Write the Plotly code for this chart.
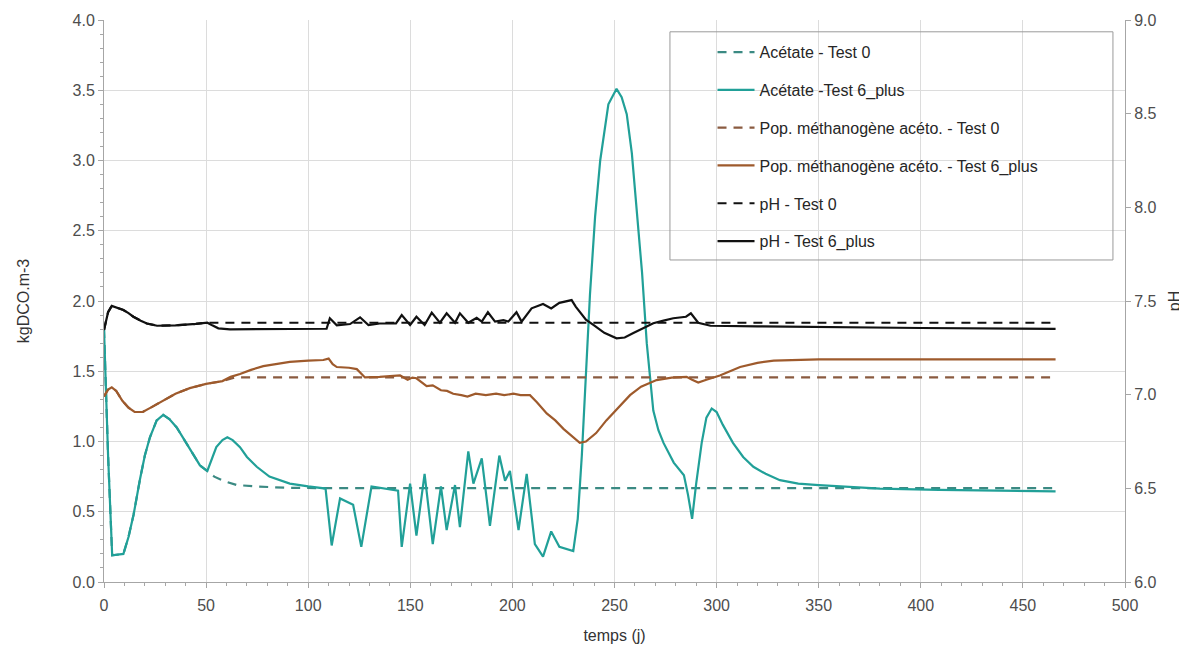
import plotly.graph_objects as go

# ---------------- data ----------------
ac6_days = [0, 2, 4, 9.5, 12, 14.5, 17.6, 20, 22.5, 25.8, 29, 32, 35.6, 39, 42, 47, 50.6, 53, 55, 58, 60.4, 63,
            66.6, 70, 74.8, 81, 91, 100, 108.5, 111.5, 115.6, 122, 126, 131, 135, 144, 145.8, 149.9, 153, 157,
            161, 165, 167.8, 171.9, 174.3, 178.4, 180.9, 185, 189, 193.6, 196.4, 198.8, 203, 207, 211, 215,
            219, 223, 229.8, 232, 234, 236, 238, 240.5, 243, 247, 251, 253.5, 256, 258.5, 261, 263.5, 265.8,
            269, 271.5, 274, 279, 284, 286, 288, 290, 292.7, 295, 297.6, 300, 303, 308, 313, 318, 324, 331,
            340, 350, 365, 380, 409, 440, 466]
ac6_vals = [1.80, 0.90, 0.19, 0.20, 0.32, 0.48, 0.73, 0.90, 1.03, 1.15, 1.19, 1.16, 1.10, 1.02, 0.94, 0.83,
            0.79, 0.88, 0.96, 1.01, 1.03, 1.01, 0.96, 0.89, 0.82, 0.75, 0.70, 0.68, 0.665, 0.26, 0.595, 0.55,
            0.25, 0.68, 0.67, 0.65, 0.25, 0.70, 0.33, 0.77, 0.27, 0.68, 0.37, 0.69, 0.39, 0.93, 0.70, 0.88,
            0.40, 0.90, 0.72, 0.79, 0.37, 0.77, 0.27, 0.18, 0.36, 0.25, 0.22, 0.45, 0.90, 1.50, 2.05, 2.60,
            3.00, 3.40, 3.51, 3.45, 3.33, 3.05, 2.65, 2.20, 1.70, 1.22, 1.08, 0.99, 0.85, 0.76, 0.62, 0.45,
            0.70, 0.99, 1.17, 1.235, 1.21, 1.12, 0.99, 0.89, 0.82, 0.77, 0.725, 0.70, 0.69, 0.675, 0.665,
            0.655, 0.65, 0.645]

ac0_days = [0, 2, 4, 9.5, 12, 14.5, 17.6, 20, 22.5, 25.8, 29, 32, 35.6, 39, 42, 47, 50.6, 54, 58.5, 65,
            74.8, 90, 110, 466]
ac0_vals = [1.80, 0.90, 0.19, 0.20, 0.32, 0.48, 0.73, 0.90, 1.03, 1.15, 1.19, 1.16, 1.10, 1.02, 0.94, 0.83,
            0.79, 0.75, 0.72, 0.69, 0.68, 0.67, 0.668, 0.668]

pop6_days = [0, 2, 3.8, 6, 9, 12, 15, 19, 24, 29, 35, 42, 50, 58, 62, 66.6, 72, 78, 85, 91, 100, 107.4, 110,
             112, 114, 120, 123.8, 126, 127.8, 135, 145, 148.7, 151, 153, 158, 161, 165, 168, 171, 175, 178,
             182, 187, 192, 196, 200.5, 204, 208.6, 212, 216.8, 221, 225, 229, 233, 236, 241, 246, 252, 257.6,
             263, 270.6, 278, 285.3, 288, 291, 295, 301.6, 311.5, 320, 328, 350, 466]
pop6_vals = [1.32, 1.37, 1.385, 1.36, 1.29, 1.24, 1.21, 1.21, 1.25, 1.29, 1.34, 1.38, 1.41, 1.43, 1.46, 1.48,
             1.51, 1.536, 1.555, 1.567, 1.575, 1.58, 1.59, 1.55, 1.53, 1.525, 1.515, 1.48, 1.456, 1.46, 1.47,
             1.44, 1.455, 1.45, 1.394, 1.40, 1.365, 1.36, 1.34, 1.33, 1.32, 1.34, 1.33, 1.34, 1.33, 1.34, 1.33,
             1.33, 1.28, 1.20, 1.15, 1.09, 1.04, 0.99, 1.00, 1.06, 1.15, 1.24, 1.33, 1.39, 1.437, 1.455, 1.46,
             1.44, 1.42, 1.44, 1.47, 1.53, 1.56, 1.576, 1.585, 1.585]

pop0_days = [0, 2, 3.8, 6, 9, 12, 15, 19, 24, 29, 35, 42, 50, 58, 62, 64, 466]
pop0_vals = [1.32, 1.37, 1.385, 1.36, 1.29, 1.24, 1.21, 1.21, 1.25, 1.29, 1.34, 1.38, 1.41, 1.43, 1.45, 1.456,
             1.456]

ph6_days = [0, 2, 3.8, 6, 9.5, 12, 14.4, 18, 21, 26, 35, 45, 50.6, 53, 56, 61.7, 80, 109, 110.6, 114, 120.5,
            125.4, 129.5, 135, 143, 145.8, 149.9, 153, 157, 160.5, 164.5, 167.8, 171.9, 174.3, 178.4, 182.5,
            185, 188, 191.5, 195.6, 198, 202, 204.5, 209.4, 215, 219, 223, 229, 231, 236, 240, 245, 251, 255,
            259, 264, 269, 274, 278.8, 285, 287.4, 291, 297, 320, 344, 400, 466]
ph6_vals = [7.345, 7.44, 7.474, 7.465, 7.452, 7.435, 7.416, 7.395, 7.38, 7.368, 7.37, 7.378, 7.384, 7.37,
            7.354, 7.349, 7.35, 7.352, 7.408, 7.37, 7.377, 7.413, 7.372, 7.38, 7.38, 7.425, 7.372, 7.416, 7.372,
            7.438, 7.384, 7.434, 7.384, 7.434, 7.384, 7.41, 7.39, 7.44, 7.39, 7.398, 7.39, 7.44, 7.39, 7.461,
            7.484, 7.46, 7.49, 7.505, 7.47, 7.40, 7.37, 7.33, 7.301, 7.305, 7.328, 7.355, 7.381, 7.395, 7.408,
            7.416, 7.434, 7.384, 7.368, 7.365, 7.362, 7.356, 7.351]

ph0_days = [0, 2, 3.8, 6, 9.5, 12, 14.4, 18, 21, 26, 35, 45, 50.6, 466]
ph0_vals = [7.345, 7.44, 7.474, 7.465, 7.452, 7.435, 7.416, 7.395, 7.38, 7.368, 7.37, 7.378, 7.384, 7.384]

x_ticks = [0, 50, 100, 150, 200, 250, 300, 350, 400, 450, 500]

# ---------------- figure ----------------
TEAL = "#21a098"
TEAL_D = "#3b8a83"
BROWN = "#9e5a2c"
BROWN_D = "#8a5b40"
BLACK = "#111111"
DASH = "9px,7px"

series = [
    ("Acétate - Test 0", ac0_days, ac0_vals, TEAL_D, DASH, "y"),
    ("Acétate -Test 6_plus", ac6_days, ac6_vals, TEAL, "solid", "y"),
    ("Pop. méthanogène acéto. - Test 0", pop0_days, pop0_vals, BROWN_D, DASH, "y"),
    ("Pop. méthanogène acéto. - Test 6_plus", pop6_days, pop6_vals, BROWN, "solid", "y"),
    ("pH - Test 0", ph0_days, ph0_vals, BLACK, DASH, "y2"),
    ("pH - Test 6_plus", ph6_days, ph6_vals, BLACK, "solid", "y2"),
]

fig = go.Figure()
for i, (name, xs, ys, col, dash, ax) in enumerate(series):
    fig.add_trace(go.Scatter(x=xs, y=ys, name=name, mode="lines", yaxis=ax,
                             legendgroup=f"g{i}",
                             line=dict(color=col, width=2.2, dash=dash)))

FONT = "Liberation Sans, Arial, sans-serif"
TICKC = "#4d4d4d"
FS = 16

fig.update_layout(
    width=1187, height=654,
    margin=dict(l=96, r=70, t=12, b=80),
    paper_bgcolor="white", plot_bgcolor="white",
    font=dict(family=FONT, size=FS, color="#333333"),
    showlegend=True,
    legend=dict(x=0.596, y=0.973, xanchor="left", yanchor="top",
                bgcolor="rgba(0,0,0,0)", borderwidth=0,
                font=dict(size=FS, color="#262626"),
                tracegroupgap=14, itemwidth=37),
    xaxis=dict(range=[0, 500], tickvals=x_ticks, showgrid=True, gridcolor="#dcdcdc",
               showline=True, linecolor="#a6a6a6", linewidth=1, zeroline=False, automargin=False,
               ticks="outside", ticklen=5, tickcolor="#a6a6a6", ticklabelstandoff=4,
               minor=dict(dtick=10, ticks="outside", ticklen=3, tickcolor="#a6a6a6", showgrid=False),
               tickfont=dict(size=FS, color=TICKC),
               title=dict(text="temps (j)", font=dict(size=FS, color="#333333"), standoff=16)),
    yaxis=dict(range=[0, 4], dtick=0.5, tickformat=".1f", showgrid=True, gridcolor="#dcdcdc",
               showline=True, linecolor="#a6a6a6", zeroline=False, automargin=False,
               ticks="outside", ticklen=5, tickcolor="#a6a6a6",
               minor=dict(dtick=0.1, ticks="outside", ticklen=3, tickcolor="#a6a6a6", showgrid=False),
               tickfont=dict(size=FS, color=TICKC),
               title=dict(text="kgDCO.m-3", font=dict(size=FS, color="#333333"), standoff=38)),
    yaxis2=dict(range=[6, 9], dtick=0.5, tickformat=".1f", overlaying="y", side="right",
                showgrid=False, showline=True, linecolor="#a6a6a6", zeroline=False, automargin=False,
                ticks="outside", ticklen=5, tickcolor="#a6a6a6",
                tickfont=dict(size=FS, color=TICKC),
                title=dict(text="pH", font=dict(size=FS, color="#333333"), standoff=13)),
    shapes=[dict(type="rect", xref="paper", yref="paper",
                 x0=0.5543, x1=0.9882, y0=0.573, y1=0.979,
                 line=dict(color="#9a9a9a", width=1), fillcolor="rgba(0,0,0,0)", layer="above")],
)

fig.write_html("out.html")
